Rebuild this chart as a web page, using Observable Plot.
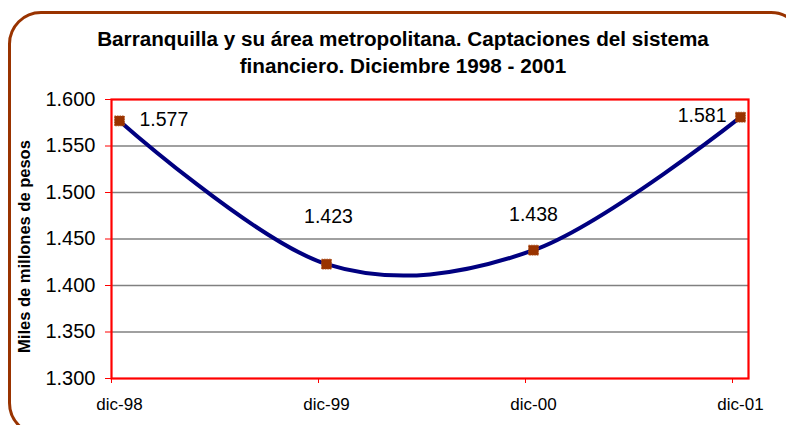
<!DOCTYPE html>
<html>
<head>
<meta charset="utf-8">
<script src="https://cdn.jsdelivr.net/npm/d3@7"></script>
<script src="https://cdn.jsdelivr.net/npm/@observablehq/plot@0.6"></script>
<style>
  html, body { margin: 0; padding: 0; background: #fff; }
  body { width: 786px; height: 425px; overflow: hidden; position: relative; font-family: "Liberation Sans", Arial, sans-serif; }
  #border { position: absolute; left: 8px; top: 11px; width: 796px; height: 425px; box-sizing: border-box;
            border: 3px solid #993300; border-radius: 33px; }
  #title { position: relative; height: 90px; box-sizing: border-box; padding-top: 25px; width: 806px;
           text-align: center; font-weight: bold; font-size: 20.7px; line-height: 27px; color: #000; }
  #chart { position: relative; }
</style>
</head>
<body>
<div id="border"></div>
<div id="title"></div>
<div id="chart"></div>
<script>
const titleLines = ["Barranquilla y su área metropolitana. Captaciones del sistema", "financiero. Diciembre 1998 - 2001"];
const yLabel = "Miles de millones de pesos";
const categories = ["dic-98", "dic-99", "dic-00", "dic-01"];
const values = [1577, 1423, 1438, 1581];
const yTicks = [1300, 1350, 1400, 1450, 1500, 1550, 1600];

document.getElementById("title").innerHTML = titleLines.join("<br>");

const fmt = d3.formatLocale({decimal: ",", thousands: ".", grouping: [3], currency: ["$", ""]}).format(",");
const data = categories.map((c, i) => ({i, c, v: values[i]}));
const idx = d3.range(categories.length);

const pad = 8 / 207;
const chart = Plot.plot({
  width: 786,
  height: 335,
  marginLeft: 111,
  marginRight: 38,
  marginTop: 9,
  marginBottom: 47,
  style: {fontFamily: "'Liberation Sans', Arial, sans-serif", fontSize: "17px", background: "transparent", color: "#000", overflow: "visible"},
  x: {type: "linear", domain: [-pad, categories.length - 1 + pad], axis: null, label: null},
  y: {domain: [1300, 1600], axis: null, label: null},
  marks: [
    Plot.gridY(yTicks.slice(1, -1), {stroke: "#808080", strokeOpacity: 1, strokeWidth: 1.3}),
    Plot.frame({stroke: "#ff0000", strokeWidth: 2.2}),
    Plot.axisY(yTicks, {tickSize: 6, tickPadding: 10, stroke: "#ff0000", fill: "#000", fontSize: 20, tickFormat: fmt}),
    Plot.axisX(idx, {tickSize: 5, dx: -8, stroke: "#ff0000", tickFormat: () => ""}),
    Plot.axisX(idx, {tickSize: 0, tickPadding: 19, fontSize: 17, fill: "#000", tickFormat: i => categories[i]}),
    Plot.line(data, {x: "i", y: "v", curve: "cardinal", stroke: "#000080", strokeWidth: 4}),
    Plot.dot(data, {x: "i", y: "v", symbol: "square", r: 5.6, fill: "#993300", stroke: "#b0501a", strokeWidth: 0.8, strokeDasharray: "1.5,1"}),
    Plot.text([data[0]], {x: "i", y: "v", text: d => fmt(d.v), dx: 20, dy: -1, textAnchor: "start", fontSize: 19.5}),
    Plot.text([data[1]], {x: "i", y: "v", text: d => fmt(d.v), dx: 2, dy: -47, fontSize: 19.5}),
    Plot.text([data[2]], {x: "i", y: "v", text: d => fmt(d.v), dx: 0, dy: -35, fontSize: 19.5}),
    Plot.text([data[3]], {x: "i", y: "v", text: d => fmt(d.v), dx: -14, dy: -1, textAnchor: "end", fontSize: 19.5}),
    Plot.text([yLabel], {frameAnchor: "left", textAnchor: "middle", text: d => d, rotate: -90, dx: -87, dy: 7.5, fontWeight: "bold", fontSize: 16.5})
  ]
});
document.getElementById("chart").appendChild(chart);
</script>
</body>
</html>
